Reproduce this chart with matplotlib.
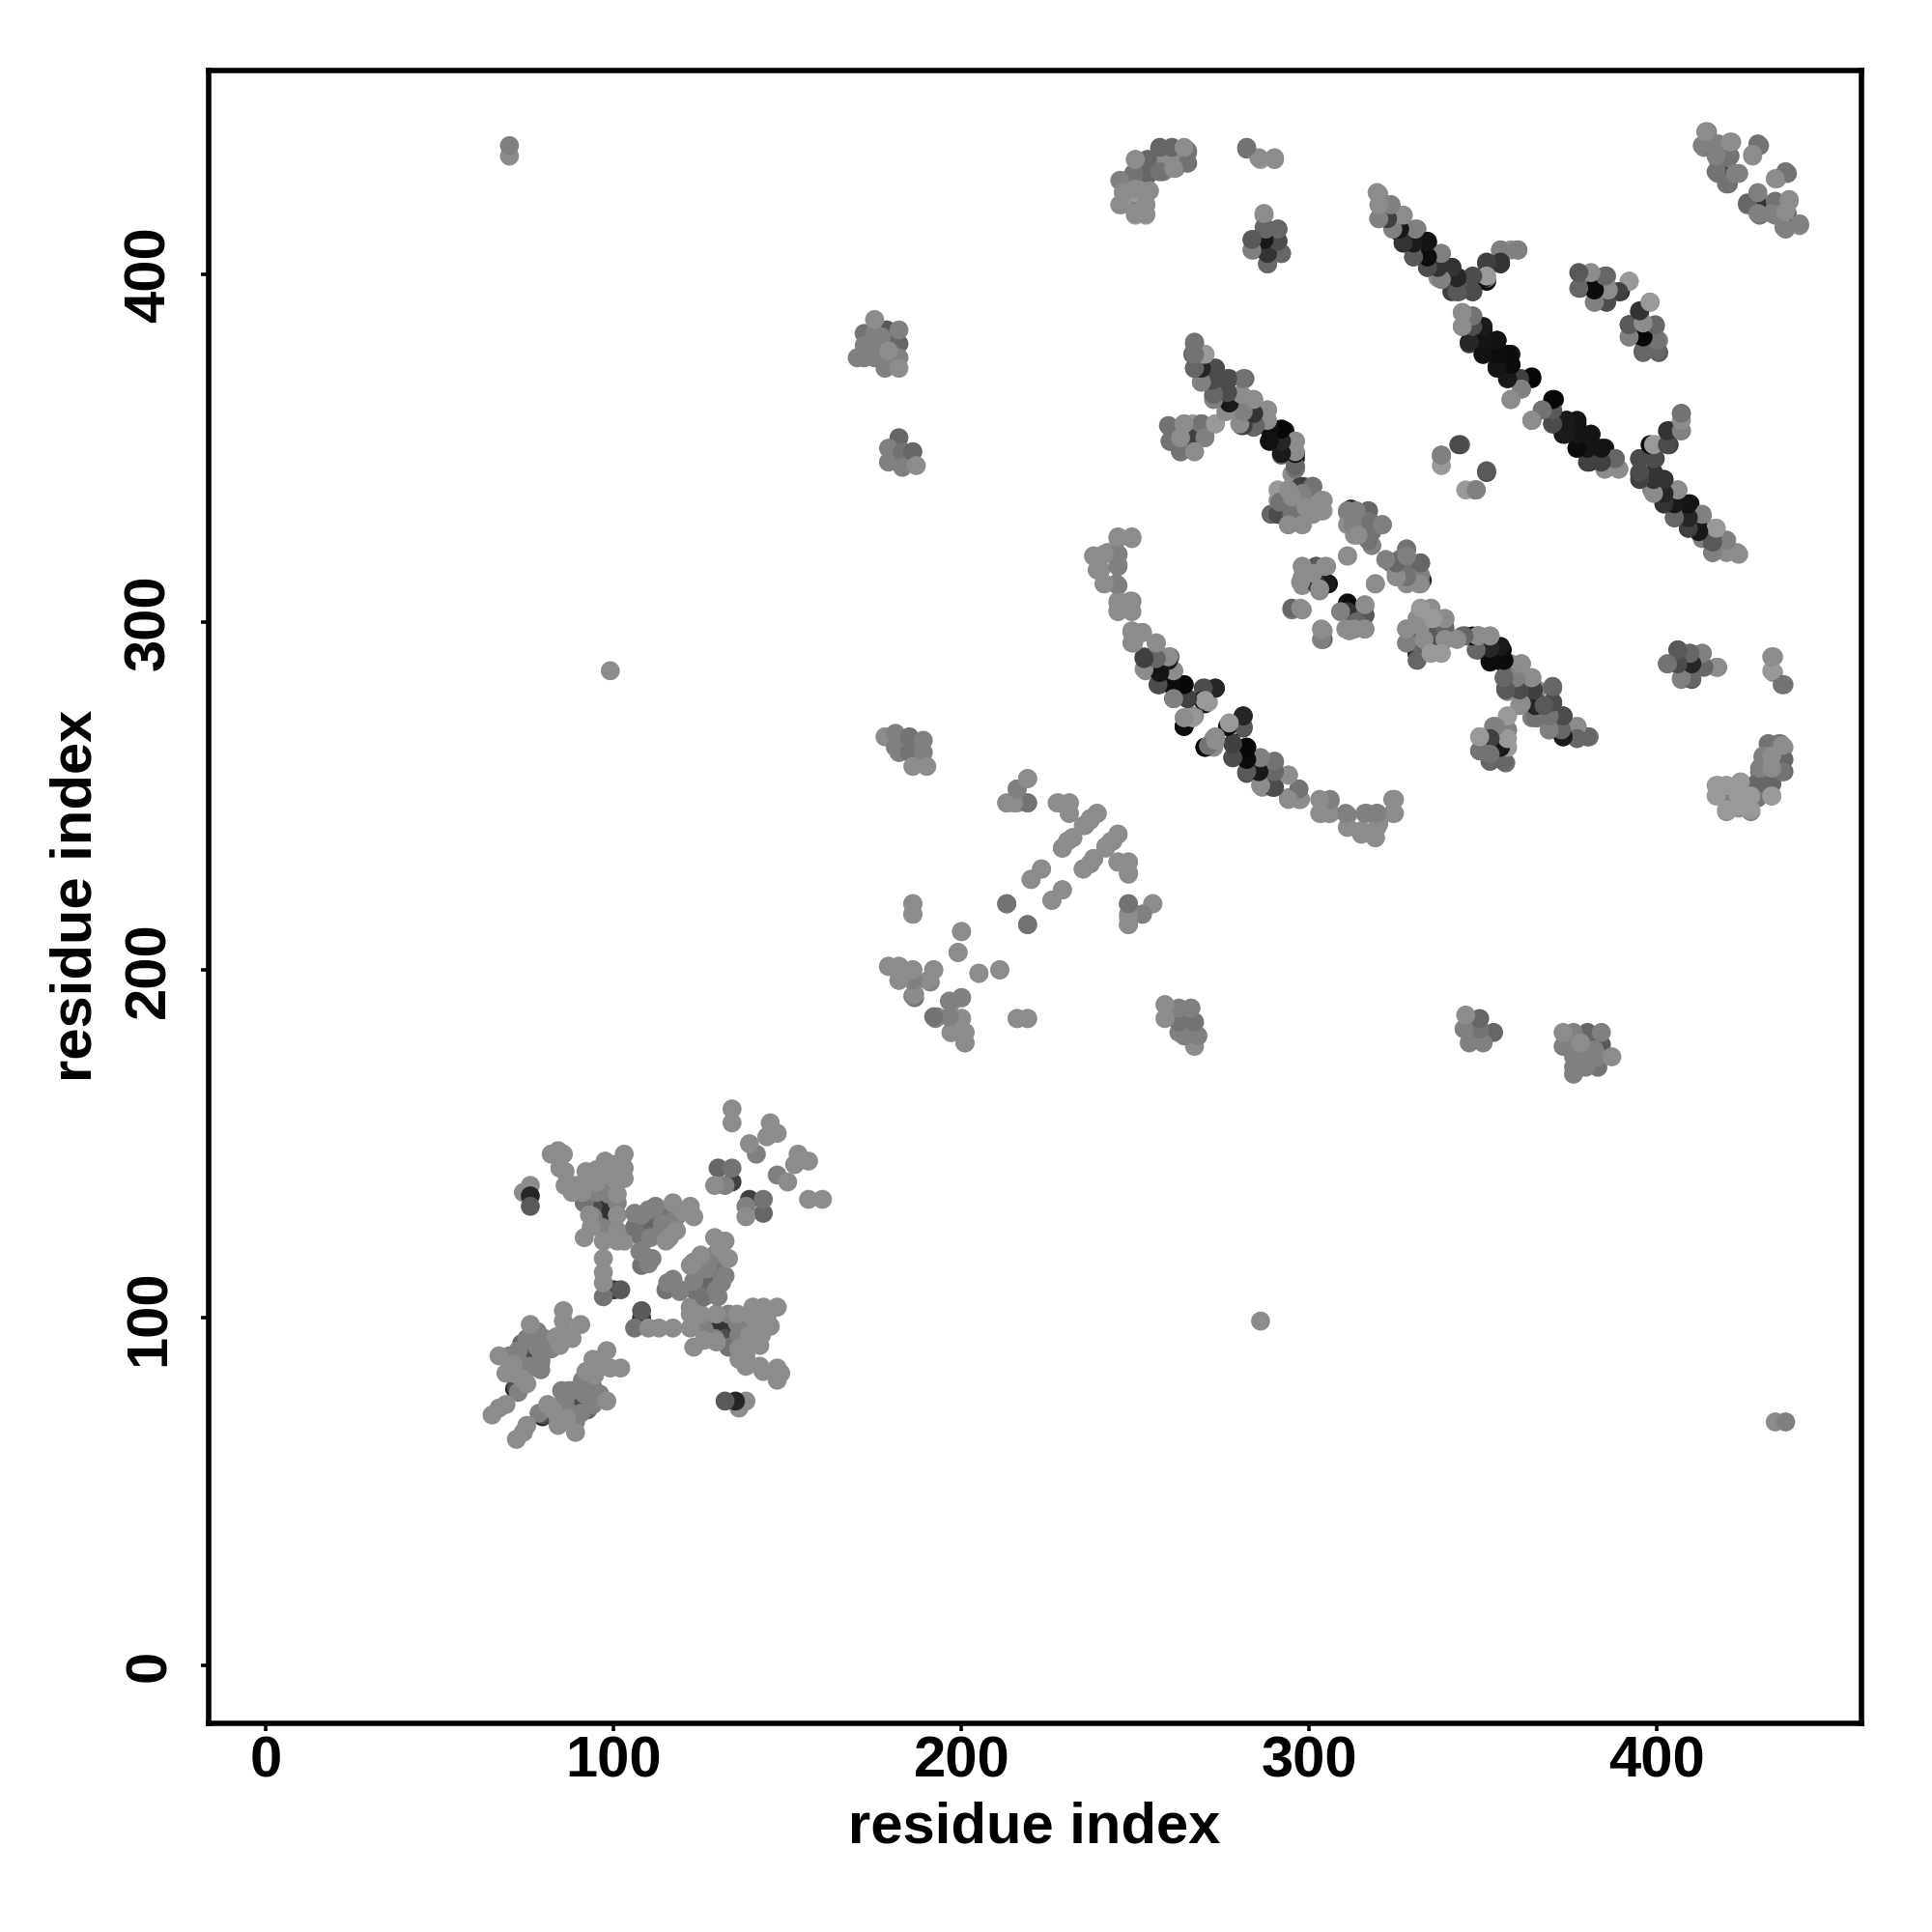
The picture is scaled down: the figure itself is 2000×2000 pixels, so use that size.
import matplotlib
matplotlib.use("Agg")
import matplotlib.pyplot as plt

plt.rcParams['font.family'] = ['Liberation Sans', 'DejaVu Sans']

# contacts above the diagonal: (residue i, residue j, grey level); the map is symmetric
isolated = [(70,434,.55),(70,437,.5),(99,286,.55)]
band_low = [(85.5,102,.55),(85.5,99,.55),(76,98,.55),(90.5,98,.55),(88,94,.55),(80,94,.5),(84.5,92,.55),
    (65,72,.55),(67,74,.55),(69,75,.55),(67,89,.55),(70,89,.5),(73.5,92.5,.4),(74,89,.15),(76,89,.3),(79,88,.45),(82,91,.5),
    (71,84,.55),(75,85,.5),(79,85,.5),(71.5,79.5,.15),(72,80,.3),(75,81,.55),
    (78,96,.5),(75,94,.5),(72.5,90.5,.5),(78,91.5,.5),(81,91.5,.5),(83.5,94.5,.55),(86.5,95,.55),(76,86,.5),(73.5,86.5,.5),(79,87,.5),(71,86.5,.55),(69,84,.55),(73.5,82.5,.55),(72.5,78.5,.5)]
band_up = [(82,147,.55),(84,148,.55),(85.5,147,.55),(84.5,143,.55),(86,142,.55),(86,138,.55),(88,136,.55),
    (92,142,.55),(95,142.5,.55),(91.5,133,.45),(91.5,123,.55),(97.5,142.5,.55),(103,147,.55),(103,143,.55),(103,140,.55),
    (99,142,.55),(98,138,.45),(94,132,.3),(96.5,133,.2),(101,133,.5),(100,129.5,.1),(96.5,129.5,.2),(101,125,.55),
    (97.5,124,.45),(94,129,.5),(101,122,.55),(97,122,.55),(97,117,.55),(97,113,.55),(97,110,.55),(97,106,.45),
    (100,108,.2),(102,108,.35),
    (92,139,.55),(95,139,.55),(89,138,.55),(97.5,145,.55),(100,144,.55),(100,140,.55),(91,136,.55),(95,136,.5),(98.5,135.5,.5),(101,135.5,.55),
    (93.5,126,.55),(96.5,126,.5),(100,126,.5),(93,129.5,.55),(101,129.5,.55),(103,122,.55),(102,142.5,.55)]
band_mid = [(106,130,.5),(106,126,.45),(110,131,.5),(113,130.5,.45),(109,127,.4),(112,127,.2),(117,133,.55),
    (115.5,129.5,.35),(122,132,.55),(123,129,.55),(118,125,.55),(115,122,.55),(108,123,.45),(107.5,119,.5),(111,117,.5),(108,115,.45),
    (108,129.5,.5),(114,127,.5),(110.5,123,.5),(113,124,.5),(116,127,.5),(118,129,.5),(112,132,.5),(116,123,.55),(120,130.5,.55),(108,119,.5),(110,115.5,.5)]
small_first = [(76,138,.55),(74,136,.55),(76,135,.15),(76,132,.35)]
top_first = [(134,160,.55),(134,156,.55),(145,156,.55),(147,153,.55),(144,152,.55),(139,150,.55),(141,147,.5),
    (130,143,.4),(134,143,.45),(134,139,.25),(129,138,.55),(132,138,.5)]
mid_a = [(186,219,.55),(186,216,.55),(200,211,.55),(199,205,.55),(205,199,.55),(211,200,.55),(213,219,.45),(219,213,.45),
    (216,186,.55),(219,186,.55)]
mid_b = [(179,201,.55),(182,201,.55),(186,200,.55),(192,200,.5),(182,197,.55),(186.5,196.5,.5),(191,196.5,.5),(186.5,192,.45),
    (192.5,186,.5),(193,186.5,.55),(197,190.5,.55),(200,192,.55),(197,186,.5),(197,182,.55),(200,186,.55),(201,182,.55),(201,179,.55)]
mid_c = [(219,255,.55),(216,252,.5),(213,248,.55),(216,248,.55),(219,248,.45),(228,248,.55),(231,248,.55),(231,245,.55),
    (239,245,.55),(237,243,.55),(235.5,241.5,.55),(232,238,.55),(230.5,237,.55),(229,235,.55),(245,239,.55),(243.5,237,.55),(241.5,235,.55),
    (238,232,.55),(237,230.5,.55),(235,229,.55),(245,231,.55),(248,231,.55),(248,227.5,.55),(223,229,.55),(220,226,.55),(229,223,.55),(226,220,.55),
    (248,219,.45),(248,215,.55),(248,213,.55),(252,216,.5),(255,219,.55)]
block_a = [(178,267,.55),(181,268,.5),(181,264,.5),(185,267,.45),(189,266,.5),(182,262.5,.5),(185,262.5,.45),(189,262.5,.5),(186,258.5,.55),(190,258.5,.55)]
block_b = [(182,353,.4),(179,350,.5),(179,346,.5),(183,349,.45),(186,349,.4),(183,344.5,.5),(187,345,.55)]
block_c = [(175,387,.55),(172,383,.45),(170,376,.5),(172,379.5,.5),(172,376,.5),(175,383,.5),(174.5,379,.2),(178.5,384,.35),(182,384,.5),
    (178,380,.2),(182,380,.4),(175,376,.5),(178,376,.5),(182,376,.5),(178,373,.5),(182,373,.55),(176,379.5,.5),(179,378,.55),(177,382,.5)]
arc_a = [(245,324,.55),(249,324,.55),(238,319,.55),(242,320,.55),(245,319.5,.5),(240,315,.55),(245,316,.5),(241,311,.55),(245,310.5,.5),
    (245,305.5,.55),(249,306,.5),(245,303,.55),(249,303,.55),(249,297,.55),(252,297,.45),(249,294,.55),(252.5,290,.3),(256,294,.55),(253,286,.55),
    (257,290,.4),(260,290,.45),(257,285.5,.1),(261,286,.5),(257,282,.35),(260.5,282,.05),(264,282,.03),(261,278,.3),(265,278,.25),
    (270,281,.35),(273,281,.15),(270,276.5,.05),(271,277,.6),(264,270,.03),(264.5,271,.45),(266,273,.55),(267,273,.55)]
arc_b = [(281,273,.15),(281,269.5,.3),(277.5,269.5,.05),(277.5,270,.6),(270,264,.05),(272.5,266.5,.6),(272.5,264,.55),(278,265,.25),(282,264,.03),
    (282,260.5,.05),(278,261,.5),(282,256.5,.3),(286,261,.55),(285.5,257,.08),(289,259.5,.1),(290,259.5,.55),(286.5,252.5,.55),(289.5,256,.4),(289.5,252.5,.25),
    (294,256,.55),(294,249.5,.55),(297,252,.55),(297.5,249,.55),(303.5,248.5,.55),(303.5,245,.55),(306,248.5,.55),(306,245,.55),(311,244.5,.5),(311,241,.55),
    (316.5,245,.5),(315,239,.55),(319.5,245,.5),(319,238,.55),(319.5,241,.55),(324.5,249,.55),(324.5,245,.55)]
center_a = [(298,316,.55),(298,310.5,.55),(305,316,.55),(302,316,.35),(300,313.5,.4),(303,311,.2),(305.5,311,.05),(303,309,.5),(298,313,.55),
    (295,303.5,.5),(298,303.5,.55),(304,295,.4),(304,297.5,.55),(311,305,.1),(311,302,.2),(309.5,303,.55),(316,304.5,.55),(314,301,.55),(311.5,297.5,.55),(316,298,.55),(316,302,.35)]
center_b = [(311,331.5,.55),(311,328,.55),(317,332,.4),(313,328,.45),(313,325,.55),(317,325,.4),(318,322,.5),(321,328,.45),(319,328,.5),(311,319,.55),(319,311,.55)]
center_c = [(328,321,.5),(323.5,317,.45),(326,318,.45),(325,314,.55),(328,312.5,.5),(332,317,.4),(329,317,.45),(332,313.5,.5),(332.5,312,.15),(332,311,.5)]
center_d = [(332,303.5,.55),(335,303.5,.55),(328,298,.55),(328,294,.55),(331,291,.3),(335,298,.5),(339,301,.45),(339,297.5,.25),(331,295,.45),(334,295,.1),
    (334.5,291.5,.45),(338,294,.55),(331,301,.55),(344,296,.45),(333,299,.55),(336,295,.55),(337,298,.5)]
strand_lower = [(345,296,.4),(348.5,296,.05),(349,296,.55),(352,296,.55),(348.5,292,.1),(352,292,.15),(355.5,292,.03),(352,288.5,.07),(355.5,288.5,.07),(358,288,.55),(361,288,.55),
    (356.5,284.5,.4),(356.5,281,.25),(357,280,.55),(360,284,.2),(360.5,281,.5),(364,284,.55),(360.5,276,.55),(363,277,.1),(364,272.5,.5),(365.5,280.5,.55),(366,276.5,.3),(365.5,272.5,.4),
    (370,281,.45),(370,276.5,.3),(369.5,272,.3),(369,269,.5),(373,273,.3),(373,269,.15),(373,267,.4),(377,270,.6),(377,267,.45),(380.5,267,.45)]
block_d = [(357,273,.6),(353,270,.5),(357,269,.45),(349,267,.55),(353,265.5,.25),(349,263,.45),(352,260,.45),(356.5,259.5,.45),(354.5,263,.15),(353,263,.55),(357,264,.55)]
block_e = [(406,292,.4),(403,288,.4),(406,288,.2),(409.5,291,.3),(413,291,.4),(410,287,.1),(413,287.5,.4),(417.5,287,.55),(407,283.5,.5),(410,283.5,.35),
    (433.5,290,.55),(433.5,285.5,.55),(436.5,282,.45)]
block_f = [(432,265,.45),(435.5,265,.45),(436.5,260.5,.4),(436.5,257,.4),(430.5,261,.55),(429.5,257,.45),(433,253.5,.4),(433,250,.55),(429,253.5,.4),(429,249.5,.45),
    (424,254,.55),(417.5,253,.55),(420,253,.55),(417.5,250,.55),(420,245.5,.55),(427,245.5,.5),(423.5,246.5,.55),(424.5,250,.55),(436.5,264,.55)]
corner_a = [(246,427,.6),(246,420,.6),(247,423.5,.6),(250,433,.6),(250,417,.6),(253,417,.6),(253,420,.6),(249.5,420,.5),(250,427,.6),(250,423.5,.6),(254,424,.6),
    (253.5,428.5,.4),(253.5,433,.4),(257,436,.45),(258,433,.55),(258,429.5,.5),(261,436,.4),(261,432.5,.15),(261.5,433,.55),(261.5,430.5,.5),(264.5,436,.55),(265,435,.45),(265,432,.45)]
corner_b = [(282,436,.45),(286,433,.6),(290,433,.55),(287,417,.55),(287,413.5,.4),(291,413,.5),(284,410,.4),(284,407,.5),(288,410,.15),(291,409.5,.4),(288,406,.3),(292,406,.35),(288,403,.45)]
strand_mid = [(267,380,.4),(270,377,.55),(266.5,377,.4),(267,373,.1),(269,372.5,.4),(273,373,.3),(269,369,.5),(273,369,.45),(277,370,.3),(281.5,370,.4),(272.5,365,.45),(276,365,.15),(276,367.5,.35),
    (280.5,364.5,.25),(276.5,361,.55),(280.5,360.5,.3),(284,364,.55),(284,359.5,.5),(288,361,.55),(280.5,356.5,.35),(284,356,.4),(289,356,.05),(293,355,.1),(289,352,.05),(292.5,352,.15),
    (296,352,.55),(292,348,.4),(296,347,.08),(296,348.5,.55),(296,344.5,.4),(295,342.5,.55)]
block_g = [(260,356,.4),(264,357,.6),(269,357,.5),(273,357,.6),(260,352,.4),(264,355,.1),(266.5,357,.6),(270,353.5,.5),(266.5,352,.25),(263,349,.45),(267,349,.6),(262,352,.45)]
block_h = [(291,331,.15),(294,328,.5),(298,328,.55),(294,331,.4),(289,331,.4),(297,332,.15),(304,332,.6),(301,332,.55),(291,338,.6),(295,339,.55),(298.5,339,.4),(301,339,.55),(304,335,.55),
    (293,335,.3),(298,335,.35),(301,335.5,.6),(291,335,.6),(295,333,.55),(299,332,.55)]
block_i = [(343.5,351,.35),(338,347.5,.6),(338,348,.5),(351,343,.3),(345,338,.6),(348,338,.5)]
strand_a = [(320,423,.55),(320,416,.5),(323.5,420,.5),(323,416,.35),(327,417,.6),(326,412,.1),(331,413,.5),(327,409,.25),(330,409,.15),(334,409,.08),(330,405,.4),(334,405,.1),(334,402,.2),
    (338,406,.55),(337,402,.15),(341,402,.2),(337,399,.55),(341,399,.2),(343,399,.2),(347,399,.3),(341,395,.25),(343,395,.3),(347,395,.3),(351,398,.05),(351,399,.6),(351,403,.3),(355,403,.2),(355,407,.5),(358,407,.55),(360,407,.45)]
strand_b = [(344,389,.55),(344,385,.55),(347,388,.4),(346,384,.25),(346,380,.25),(350,384,.08),(350,380,.08),(354,381,.08),(350,377,.05),(354,377,.08),(358,377,.08),(354,373.5,.1),(358,374,.1),
    (357,370,.3),(361,370,.35),(364,370,.03),(361,367,.45),(358,364,.55)]
strand_c = [(370.5,364,.03),(370,360.5,.25),(367,361,.5),(364,358,.55),(370,357,.1),(374,358,.05),(377,357,.05),(373,354,.08),(377,354,.05),(381,354,.07),(377,350,.07),(381,350,.08),(385,350,.1),
    (380.5,346,.15),(385,347,.3),(388,347,.45),(385,344,.55),(389,344,.55)]
strand_d = [(407,360,.5),(407,355,.5),(403.5,355,.2),(403.5,351,.25),(399,350.5,.05),(399.5,351,.6),(395,347,.3),(399.5,347,.3),(395,342.5,.35),(399,342.5,.15),(402,341,.2),(398.5,338,.5),(402,337,.2),(406,338,.5),
    (402,334,.3),(405,334,.05),(409.5,334,.08),(405,330,.35),(409,330,.1),(413,330.5,.5),(409,327,.2),(413,326,.1),(413,324,.5),(417,327,.55),(416,322.5,.25),(416,320,.5),(420,323.5,.5),(420,320,.55),(423.5,319.5,.55)]
block_j = [(378,400,.4),(378,396,.4),(381,400,.45),(382,396,.03),(385.5,399.5,.4),(382,392,.5),(385.5,392,.35),(386,396,.55),(389.5,395,.2),(392,398,.6),
    (398,392,.6),(395,389,.25),(392,385.5,.3),(392,382,.5),(395.5,386,.55),(395.5,382,.05),(399.5,385,.4),(400.5,381,.55),(396,377.5,.4),(400.5,377.5,.35)]
corner_c = [(414.5,441,.5),(413.5,436.5,.5),(417.5,437,.05),(418,437,.55),(421.5,438,.55),(421,434,.45),(417.5,433,.5),(417.5,429,.5),(420.5,426,.4),(420,429,.2),(423.5,429,.5),
    (429.5,437,.45),(427.5,434,.55),(434.5,427.5,.55),(437.5,429,.45),(426,420,.45),(427.5,420,.2),(429,422.5,.5),(429.5,417,.45),(433.5,420.5,.45),(438,421,.55),(434,417,.5),(436.5,416,.1),(437.5,417.5,.5),(437,413,.5),(441,414,.55)]

# dark contacts in these groups sit underneath lighter ones
under_first = [band_low, band_up, band_mid, block_c, center_a, center_c, center_d, block_d, block_f, block_h, corner_c, corner_a, top_first]
on_top = [isolated, small_first, mid_a, mid_b, mid_c, block_a, block_b, arc_a, arc_b, center_b, strand_lower, block_e, corner_b,
          strand_mid, block_g, block_i, strand_a, strand_b, strand_c, strand_d, block_j]
points = [p for g in under_first for p in sorted(g, key=lambda q: q[2])] + [p for g in on_top for p in g]
i_vals = [p[0] for p in points]
j_vals = [p[1] for p in points]
grey_vals = [p[2] for p in points]

x_ticks = [0, 100, 200, 300, 400]
y_ticks = [0, 100, 200, 300, 400]
axis_label = "residue index"

fig = plt.figure(figsize=(10, 10), dpi=200)
ax = fig.add_axes([216/2000, 1-1784/2000, (1927-216)/2000, (1784-73)/2000])
ax.scatter(i_vals + j_vals, j_vals + i_vals, c=grey_vals + grey_vals, cmap='gray', vmin=0, vmax=1, s=50, linewidths=0)
ax.set_xlim(-16.5, 458.8)
ax.set_ylim(-16.67, 458.6)
ax.set_xticks(x_ticks)
ax.set_yticks(y_ticks)
for s in ax.spines.values():
    s.set_linewidth(2.0)
ax.tick_params(axis='x', length=3, width=1.3, labelsize=21.5, pad=1.5)
ax.tick_params(axis='y', length=3, width=1.3, labelsize=21.5, pad=9)
for t in ax.get_xticklabels():
    t.set_fontweight('bold')
for t in ax.get_yticklabels():
    t.set_fontweight('bold')
    t.set_rotation(90)
    t.set_va('center')
fig.text(1071/2000, 1-1892/2000, axis_label, fontsize=21.5, fontweight='bold', ha='center', va='center')
fig.text(79/2000, 1-927/2000, axis_label, fontsize=21.5, fontweight='bold', ha='center', va='center', rotation=90)
fig.savefig("out.png", dpi=200, facecolor='white')
